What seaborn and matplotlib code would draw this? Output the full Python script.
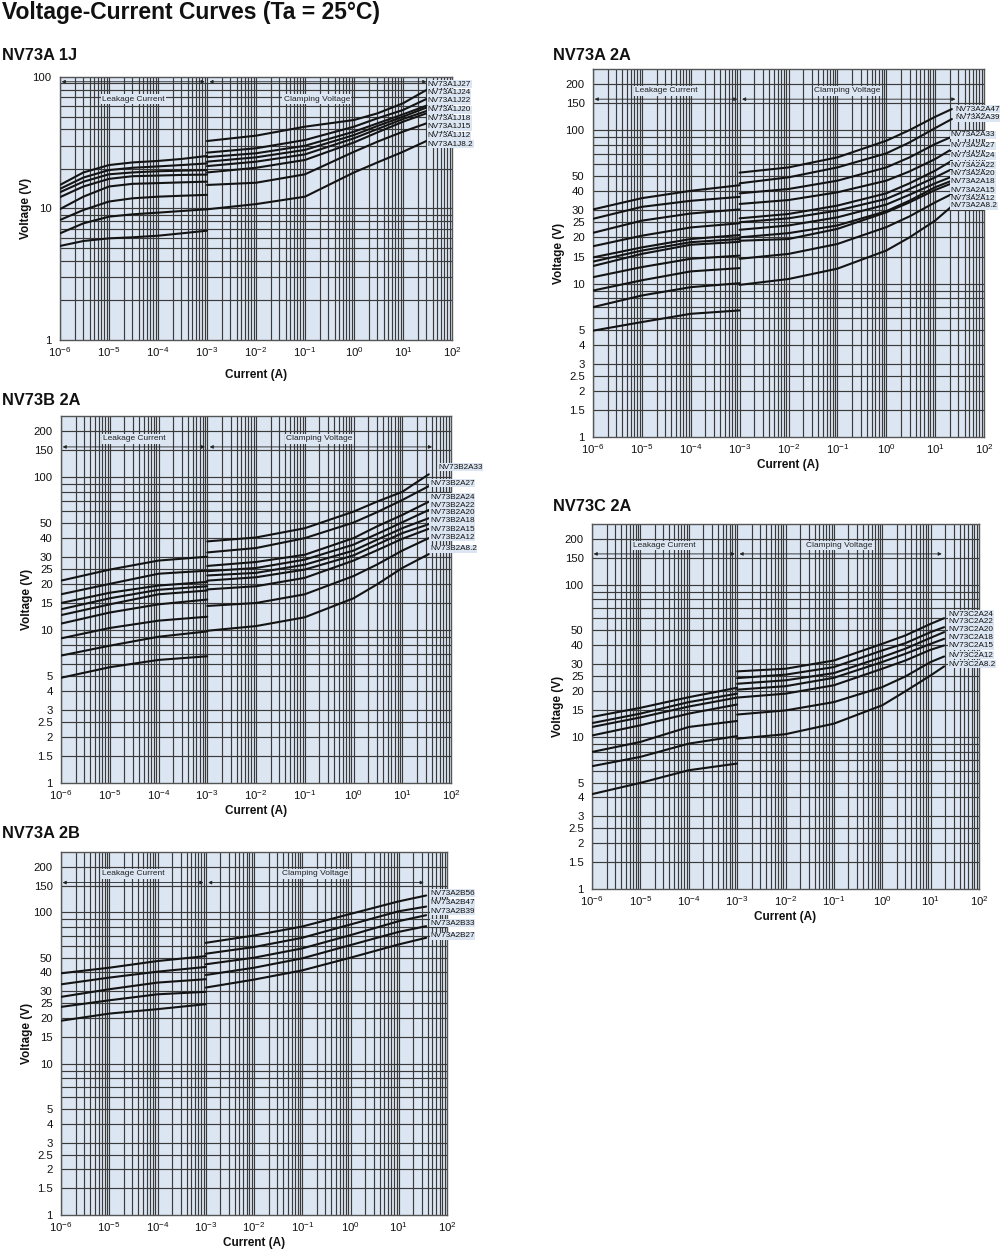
import numpy as np
import pandas as pd
import matplotlib
matplotlib.use("Agg")
import matplotlib.pyplot as plt
import seaborn as sns
from matplotlib.ticker import FixedLocator, NullLocator, FixedFormatter, NullFormatter

sns.set_theme(style="white")
plt.rcParams['font.family'] = ['Liberation Sans', 'DejaVu Sans']
plt.rcParams['mathtext.default'] = 'regular'

BG = '#dce6f2'
GRID = '#3a3a3a'
CURVE = '#141414'

# ---------------- data ----------------
main_title = "Voltage-Current Curves (Ta = 25°C)"

# NV73A 1J
p1_names = ["NV73A1J27", "NV73A1J24", "NV73A1J22", "NV73A1J20", "NV73A1J18", "NV73A1J15", "NV73A1J12", "NV73A1J8.2"]
p1_leak_I = [1e-6, 3e-6, 1e-5, 3e-5, 1e-4, 3e-4, 1e-3]
p1_leak_V = [
    [15.1, 18.8, 21.4, 22.4, 23.0, 23.8, 25.1],
    [14.1, 17.2, 19.6, 20.4, 20.9, 21.4, 22.0],
    [13.3, 16.0, 18.2, 18.8, 19.2, 19.4, 19.6],
    [12.2, 14.7, 16.8, 17.6, 17.8, 18.0, 18.1],
    [9.9, 12.3, 14.7, 15.4, 15.6, 15.8, 16.0],
    [8.18, 9.74, 11.3, 11.95, 12.3, 12.5, 12.7],
    [6.47, 7.71, 8.67, 9.03, 9.30, 9.57, 9.86],
    [5.19, 5.66, 5.93, 6.04, 6.21, 6.47, 6.78],
]
p1_clamp_I = [1e-3, 1e-2, 1e-1, 1, 3, 10, 30]
p1_clamp_V = [
    [32.6, 35.8, 41.9, 47.1, 52.9, 63.1, 79.6],
    [26.6, 28.7, 33.2, 41.9, 48.5, 56.1, 68.0],
    [24.6, 26.3, 30.0, 38.4, 44.4, 52.0, 60.5],
    [22.7, 24.5, 27.9, 36.2, 42.4, 49.9, 58.5],
    [21.0, 22.7, 25.8, 34.2, 40.2, 47.9, 55.1],
    [18.8, 20.4, 23.4, 31.8, 37.9, 45.7, 52.9],
    [15.1, 15.7, 18.2, 27.0, 32.2, 38.4, 44.4],
    [9.86, 10.8, 12.3, 18.8, 22.4, 27.0, 32.6],
]

# NV73A 2A
p2_names = ["NV73A2A47", "NV73A2A39", "NV73A2A33", "NV73A2A27", "NV73A2A24", "NV73A2A22",
            "NV73A2A20", "NV73A2A18", "NV73A2A15", "NV73A2A12", "NV73A2A8.2"]
p2_leak_I = [1e-6, 1e-5, 1e-4, 1e-3]
p2_leak_V = [
    [30.4, 36.0, 40.2, 43.7],
    [26.4, 31.6, 34.6, 36.7],
    [21.4, 25.7, 28.6, 30.4],
    [17.5, 20.5, 23.2, 24.7],
    [14.8, 17.2, 19.5, 20.7],
    [13.9, 16.4, 18.6, 19.5],
    [13.0, 15.6, 17.9, 18.7],
    [11.0, 12.8, 14.5, 15.2],
    [9.0, 10.5, 12.0, 12.6],
    [7.02, 8.36, 9.47, 10.05],
    [4.93, 5.61, 6.35, 6.68],
]
p2_clamp_I = [1e-3, 1e-2, 1e-1, 1, 3, 10, 22]
p2_clamp_V = [
    [52.8, 57.1, 66.4, 85.2, 100, 122, 137],
    [45.0, 49.2, 57.1, 70.5, 83.1, 103, 118],
    [38.7, 41.3, 46.8, 57.1, 66.4, 81.1, 90.5],
    [33.0, 35.0, 39.3, 46.8, 53.8, 64.7, 75.2],
    [26.6, 28.4, 32.2, 38.7, 45.0, 54.4, 63.1],
    [25.1, 26.6, 29.9, 35.6, 41.3, 49.2, 55.7],
    [22.4, 23.9, 27.0, 32.7, 37.9, 45.0, 49.7],
    [20.0, 21.3, 23.9, 29.6, 34.7, 42.4, 46.8],
    [19.0, 19.5, 22.7, 29.1, 33.8, 40.7, 45.0],
    [14.5, 15.6, 18.1, 23.3, 27.4, 33.8, 38.3],
    [9.8, 10.7, 12.5, 16.4, 20.0, 25.7, 31.9],
]

# NV73B 2A
p3_names = ["NV73B2A33", "NV73B2A27", "NV73B2A24", "NV73B2A22", "NV73B2A20", "NV73B2A18",
            "NV73B2A15", "NV73B2A12", "NV73B2A8.2"]
p3_leak_I = [1e-6, 1e-5, 1e-4, 1e-3]
p3_leak_V = [
    [21.0, 24.8, 28.4, 30.1],
    [17.1, 20.0, 23.3, 24.4],
    [15.0, 17.5, 19.5, 20.6],
    [13.65, 16.1, 18.3, 19.3],
    [12.5, 14.7, 17.1, 18.1],
    [11.0, 13.0, 14.7, 15.8],
    [8.81, 10.3, 11.5, 12.2],
    [6.80, 7.89, 9.03, 9.78],
    [4.87, 5.71, 6.37, 6.73],
]
p3_clamp_I = [1e-3, 1e-2, 1e-1, 1, 3, 10, 35]
p3_clamp_V = [
    [37.9, 40.2, 46.2, 59.3, 68.8, 79.9, 104],
    [32.1, 34.3, 39.8, 50.3, 58.7, 70.6, 87.0],
    [26.2, 27.8, 31.0, 39.8, 47.4, 56.4, 68.8],
    [24.2, 25.4, 28.8, 36.1, 42.3, 50.5, 60.8],
    [22.7, 23.6, 26.7, 33.0, 38.8, 46.2, 53.7],
    [21.0, 22.1, 24.8, 30.7, 36.1, 42.9, 49.1],
    [18.4, 19.3, 21.9, 28.4, 33.1, 39.4, 45.8],
    [14.35, 15.0, 17.1, 22.5, 26.7, 33.0, 39.8],
    [9.88, 10.6, 12.1, 16.1, 19.8, 25.4, 31.3],
]

# NV73A 2B
p4_names = ["NV73A2B56", "NV73A2B47", "NV73A2B39", "NV73A2B33", "NV73A2B27"]
p4_leak_I = [1e-6, 1e-5, 1e-4, 1e-3]
p4_leak_V = [
    [39.5, 43.0, 47.6, 51.3],
    [33.4, 37.0, 40.5, 43.5],
    [27.6, 31.0, 34.3, 36.1],
    [23.7, 26.2, 28.7, 29.8],
    [19.2, 21.4, 22.9, 24.7],
]
p4_clamp_I = [1e-3, 1e-2, 1e-1, 1, 10, 37]
p4_clamp_V = [
    [62.8, 70.2, 80.5, 97.5, 118, 129],
    [53.2, 58.9, 67.8, 83.0, 101.5, 109],
    [45.3, 50.1, 57.7, 70.6, 87.3, 95.6],
    [38.5, 43.0, 49.6, 60.7, 74.2, 80.9],
    [31.8, 35.9, 41.3, 50.1, 61.3, 67.8],
]

# NV73C 2A
p5_names = ["NV73C2A24", "NV73C2A22", "NV73C2A20", "NV73C2A18", "NV73C2A15", "NV73C2A12", "NV73C2A8.2"]
p5_leak_I = [1e-6, 1e-5, 1e-4, 1e-3]
p5_leak_V = [
    [13.5, 15.5, 18.2, 21.0],
    [12.3, 14.2, 16.9, 19.2],
    [11.6, 13.4, 15.8, 18.1],
    [10.2, 11.9, 14.2, 16.3],
    [7.95, 9.25, 11.6, 12.7],
    [6.41, 7.38, 9.02, 10.1],
    [4.20, 4.98, 6.03, 6.67],
]
p5_clamp_I = [1e-3, 1e-2, 1e-1, 1, 3, 10, 19]
p5_clamp_V = [
    [26.9, 28.0, 31.7, 40.8, 46.3, 55.2, 60.1],
    [24.3, 25.6, 28.7, 36.9, 41.2, 48.7, 52.5],
    [22.3, 23.5, 26.2, 33.4, 37.9, 44.7, 48.7],
    [20.4, 21.5, 24.4, 31.0, 35.1, 40.8, 44.0],
    [18.1, 19.2, 21.8, 28.0, 31.7, 37.3, 39.8],
    [14.0, 14.9, 16.9, 21.2, 24.9, 31.0, 33.7],
    [9.72, 10.4, 12.2, 16.1, 19.9, 25.3, 29.0],
]

yticks_1j = [1, 10, 100]
yticks_2a = [1, 1.5, 2, 2.5, 3, 4, 5, 10, 15, 20, 25, 30, 40, 50, 100, 150, 200]
yticklabels_2a = ["1", "1.5", "2", "2.5", "3", "4", "5", "10", "15", "20", "25", "30", "40", "50", "100", "150", "200"]
xticks = [1e-6, 1e-5, 1e-4, 1e-3, 1e-2, 1e-1, 1, 10, 100]
xticklabels = [r"$\mathregular{10^{-6}}$", r"$\mathregular{10^{-5}}$", r"$\mathregular{10^{-4}}$",
               r"$\mathregular{10^{-3}}$", r"$\mathregular{10^{-2}}$", r"$\mathregular{10^{-1}}$",
               r"$\mathregular{10^{0}}$", r"$\mathregular{10^{1}}$", r"$\mathregular{10^{2}}$"]

# ---------------- drawing ----------------
W, H = 1000, 1249
fig = plt.figure(figsize=(W / 100, H / 100), dpi=100)
fig.patch.set_facecolor('white')


def build_df(names, leak_I, leak_V, clamp_I, clamp_V):
    rows = []
    for n, lv, cv in zip(names, leak_V, clamp_V):
        for i, v in zip(leak_I, lv):
            rows.append((n + "_leak", i, v))
        for i, v in zip(clamp_I, cv):
            rows.append((n + "_clamp", i, v))
    return pd.DataFrame(rows, columns=["seg", "I", "V"])


def panel(box_px, title, title_px, names, leak_I, leak_V, clamp_I, clamp_V,
          ytop, yticks, yticklabels, hlines, label_x, label_y,
          arrow_y, text_y, clamp_end, xlab_off):
    l, t, r, b = box_px
    ax = fig.add_axes([l / W, 1 - b / H, (r - l) / W, (b - t) / H])
    ax.set_facecolor(BG)
    ax.set_xscale('log')
    ax.set_yscale('log')
    ax.set_xlim(1e-6, 1e2)
    ax.set_ylim(1, ytop)

    for dec in range(-6, 2):
        for k in range(1, 10):
            ax.axvline(k * 10.0 ** dec, color=GRID, lw=0.85, zorder=1)
    for hv in hlines:
        if 1 < hv < ytop:
            ax.axhline(hv, color=GRID, lw=0.85, zorder=1)

    df = build_df(names, leak_I, leak_V, clamp_I, clamp_V)
    sns.lineplot(data=df, x="I", y="V", units="seg", estimator=None, sort=False,
                 color=CURVE, lw=1.5, ax=ax, legend=False, zorder=3)

    ax.xaxis.set_major_locator(FixedLocator(xticks))
    ax.xaxis.set_major_formatter(FixedFormatter(xticklabels))
    ax.xaxis.set_minor_locator(NullLocator())
    ax.xaxis.set_minor_formatter(NullFormatter())
    ax.yaxis.set_major_locator(FixedLocator(yticks))
    ax.yaxis.set_major_formatter(FixedFormatter(yticklabels))
    ax.yaxis.set_minor_locator(NullLocator())
    ax.yaxis.set_minor_formatter(NullFormatter())
    ax.tick_params(axis='x', length=0, pad=4, labelsize=8.2, colors='#111')
    ax.tick_params(axis='y', length=0, pad=6, labelsize=8.2, colors='#111')

    ax.set_xlabel("Current (A)", fontsize=8.5, fontweight='bold', color='#111')
    ax.set_ylabel("Voltage (V)", fontsize=8.5, fontweight='bold', color='#111')
    ax.xaxis.set_label_coords(0.5, -xlab_off / (b - t))
    ax.xaxis.label.set_va('center')
    ax.yaxis.set_label_coords(-34 / (r - l), 0.5)
    ax.yaxis.label.set_va('center')

    for s in ax.spines.values():
        s.set_color('#555555')
        s.set_linewidth(1.0)

    # region arrows
    ap = dict(arrowstyle='<|-|>', color='#222222', lw=0.6, mutation_scale=5,
              shrinkA=0, shrinkB=0)
    ax.annotate('', xy=(1.08e-6, arrow_y), xytext=(0.9e-3, arrow_y), arrowprops=ap, zorder=4)
    ax.annotate('', xy=(1.12e-3, arrow_y), xytext=(clamp_end, arrow_y), arrowprops=ap, zorder=4)
    ax.text(np.sqrt(1e-6 * 1e-3), text_y, "Leakage Current", ha='center', va='center',
            fontsize=6, color='#222', zorder=4,
            bbox=dict(boxstyle='square,pad=0.15', fc=BG, ec='none'))
    ax.text(np.sqrt(1e-3 * clamp_end), text_y, "Clamping Voltage", ha='center', va='center',
            fontsize=6, color='#222', zorder=4,
            bbox=dict(boxstyle='square,pad=0.15', fc=BG, ec='none'))

    # curve labels
    for n, lx, ly in zip(names, label_x, label_y):
        ax.text(lx, ly, n, transform=ax.transAxes, ha='left', va='center',
                fontsize=5.9, color='#111', zorder=6, clip_on=False,
                bbox=dict(boxstyle='square,pad=0.06', fc=BG, ec='none'))

    fig.text(title_px[0] / W, 1 - title_px[1] / H, title, fontsize=11.8,
             fontweight='bold', ha='left', va='center', color='#111')
    return ax


h_1j = [k * 10.0 ** d for d in range(0, 2) for k in range(1, 10)]
h_2a = sorted(set([1, 1.5, 2, 2.5, 3, 4, 5, 6, 7, 8, 9, 10, 15, 20, 25, 30, 40, 50, 60, 70, 80, 90,
                   100, 150, 200]))

panel((60, 77, 452, 340), "NV73A 1J", (2, 55), p1_names, p1_leak_I, p1_leak_V, p1_clamp_I, p1_clamp_V,
      100, yticks_1j, ["1", "10", "100"], h_1j,
      [0.938] * 8, [0.973, 0.940, 0.909, 0.875, 0.841, 0.810, 0.776, 0.745],
      92, 68, 30, 35)

panel((593, 69, 984, 437), "NV73A 2A", (553, 55), p2_names, p2_leak_I, p2_leak_V, p2_clamp_I, p2_clamp_V,
      250, yticks_2a, yticklabels_2a, h_2a,
      [0.926, 0.926] + [0.915] * 9,
      [0.891, 0.867, 0.821, 0.791, 0.764, 0.739, 0.715, 0.693, 0.671, 0.647, 0.628],
      159, 180, 26, 28)

panel((61, 416, 451, 783), "NV73B 2A", (2, 400), p3_names, p3_leak_I, p3_leak_V, p3_clamp_I, p3_clamp_V,
      250, yticks_2a, yticklabels_2a, h_2a,
      [0.967] + [0.946] * 8,
      [0.861, 0.817, 0.779, 0.757, 0.736, 0.714, 0.692, 0.670, 0.638],
      157, 177, 41, 28)

panel((61, 852, 447, 1215), "NV73A 2B", (2, 834), p4_names, p4_leak_I, p4_leak_V, p4_clamp_I, p4_clamp_V,
      250, yticks_2a, yticklabels_2a, h_2a,
      [0.956] * 5, [0.887, 0.860, 0.837, 0.804, 0.769],
      157, 179, 33, 28)

panel((592, 524, 979, 889), "NV73C 2A", (553, 506), p5_names, p5_leak_I, p5_leak_V, p5_clamp_I, p5_clamp_V,
      250, yticks_2a, yticklabels_2a, h_2a,
      [0.921] * 7, [0.753, 0.732, 0.710, 0.688, 0.666, 0.641, 0.616],
      159, 180, 17, 28)

fig.text(2 / W, 1 - 12 / H, main_title, fontsize=16.5, fontweight='bold', ha='left', va='center',
         color='#111')

fig.savefig("out.png", dpi=100, facecolor='white')
